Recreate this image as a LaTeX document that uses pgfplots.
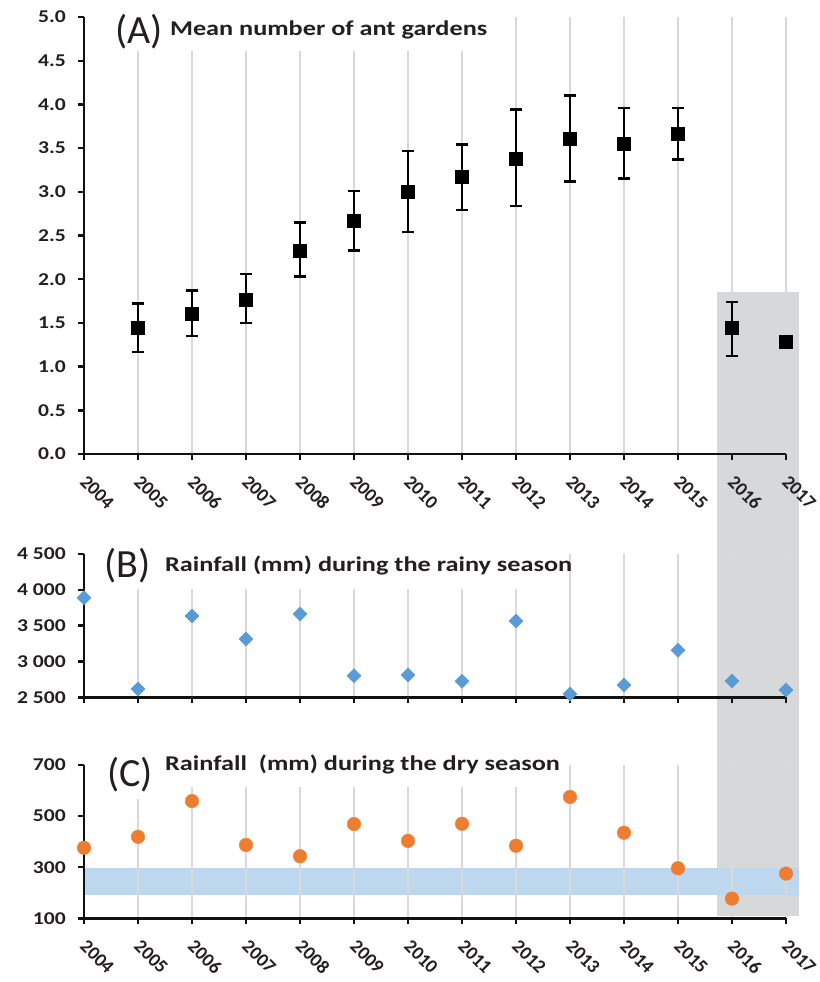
\documentclass[border=0pt]{standalone}
\usepackage{fontspec}
\setmainfont{Carlito}
\usepackage{graphicx}
\usepackage{pgfplots}
\usepackage{pgfplotstable}
\pgfplotsset{compat=1.18}
\definecolor{txt}{HTML}{231F20}
\definecolor{axk}{HTML}{111111}
\definecolor{gridc}{HTML}{D9D9D9}
\definecolor{boxg}{HTML}{D7D8DA}
\definecolor{bandc}{HTML}{BDD7EE}
\definecolor{dblue}{HTML}{5B9BD5}
\definecolor{dorange}{HTML}{ED7D31}
\newcommand\sx[1]{\scalebox{1.2}[1]{#1}}
\newcommand\tx[1]{\scalebox{1.25}[1]{#1}}

\pgfplotstableread{
x y ep em
1 1.44 0.28 0.27
2 1.61 0.26 0.26
3 1.77 0.29 0.27
4 2.33 0.32 0.30
5 2.67 0.34 0.34
6 3.00 0.47 0.46
7 3.17 0.37 0.38
8 3.38 0.56 0.54
9 3.61 0.49 0.49
10 3.55 0.41 0.40
11 3.67 0.29 0.30
12 1.44 0.30 0.32
}\tA
\pgfplotstableread{
x y
13 1.28
}\tAb
\pgfplotstableread{
x y
0 3890
1 2615
2 3635
3 3315
4 3663
5 2802
6 2811
7 2723
8 3566
9 2546
10 2672
11 3156
12 2728
13 2602
}\tB
\pgfplotstableread{
x y
0 376
1 419
2 559
3 387
4 343
5 469
6 403
7 470
8 384
9 575
10 435
11 296
12 177
13 275
}\tC

\pgfplotsset{
  base/.style={
    set layers,
    scale only axis, width=702pt, xmin=0, xmax=13, xtick={0,1,2,3,4,5,6,7,8,9,10,11,12,13},
    axis lines*=left, axis line style={line width=2.6pt, color=axk},
    tick align=outside, major tick length=6pt,
    tick style={line width=2.4pt, color=axk},
    xmajorgrids, major grid style={line width=1.5pt, color=gridc},
    clip=false, anchor=south west,
    every tick label/.append style={font=\bfseries\fontsize{18}{18}\selectfont, text=txt},
    yticklabel style={inner sep=0pt, xshift=-12pt},
    xticklabel style={xshift=4pt, yshift=-14pt, rotate=-45, anchor=north west, inner sep=0pt,
      font=\bfseries\fontsize{19}{19}\selectfont},
  },
}
\tikzset{
  lettr/.style={anchor=base west, inner sep=0pt, text=txt, font=\fontsize{40}{40}\selectfont},
  ttl/.style={anchor=base west, inner sep=0pt, text=txt, font=\bfseries\fontsize{21}{21}\selectfont},
}

\begin{document}
\begin{tikzpicture}
\path (0pt,0pt) rectangle (819pt,-982pt);

% Panel A
\begin{axis}[base, at={(84pt,-454pt)}, height=437pt,
  ymin=0, ymax=5, ytick={0,0.5,1,1.5,2,2.5,3,3.5,4,4.5,5},
  yticklabels={\sx{0.0},\sx{0.5},\sx{1.0},\sx{1.5},\sx{2.0},\sx{2.5},\sx{3.0},\sx{3.5},\sx{4.0},\sx{4.5},\sx{5.0}},
  xticklabels={2004,2005,2006,2007,2008,2009,2010,2011,2012,2013,2014,2015,2016,2017}]
\begin{pgfonlayer}{axis background}
\fill[boxg] (axis cs:11.72,1.853) rectangle (axis cs:13.24,-5.286);
\end{pgfonlayer}
\fill[white] (axis cs:0.4,4.61) rectangle (axis cs:7.6,5.1);
\node[lettr] at (axis cs:0.573,4.699) {(A)};
\node[ttl] at (axis cs:1.59,4.794) {\tx{Mean number of ant gardens}};
\addplot[only marks, mark=square*, mark size=6.5pt, color=black, line width=2.8pt,
  mark options={line width=0.4pt},
  error bars/.cd, y dir=both, y explicit,
  error bar style={line width=2.8pt, black},
  error mark options={rotate=90, line width=2.4pt, mark size=6pt, black}]
  table[x=x, y=y, y error plus=ep, y error minus=em] {\tA};
\addplot[only marks, mark=square*, mark size=6.5pt, color=black] table[x=x, y=y] {\tAb};
\end{axis}

% Panel B
\begin{axis}[base, at={(84pt,-697.3pt)}, height=143.3pt,
  ymin=2500, ymax=4500, ytick={2500,3000,3500,4000,4500},
  yticklabels={\sx{2 500},\sx{3 000},\sx{3 500},\sx{4 000},\sx{4 500}},
  xticklabels={}]
\fill[white] (axis cs:0.4,4012) rectangle (axis cs:8.6,4650);
\node[lettr] at (axis cs:0.37,4166) {(B)};
\node[ttl] at (axis cs:1.50,4250) {\tx{Rainfall (mm) during the rainy season}};
\addplot[only marks, mark=square*, mark size=5pt, mark options={rotate=45}, color=dblue] table[x=x, y=y] {\tB};
\end{axis}

% Panel C
\begin{axis}[base, at={(84pt,-918.3pt)}, height=153.3pt,
  ymin=100, ymax=700, ytick={100,300,500,700},
  yticklabels={\sx{100},\sx{300},\sx{500},\sx{700}},
  xticklabels={2004,2005,2006,2007,2008,2009,2010,2011,2012,2013,2014,2015,2016,2017}]
\begin{pgfonlayer}{axis background}
\fill[bandc] (axis cs:0,190) rectangle (axis cs:13.24,297);
\end{pgfonlayer}
\fill[white] (axis cs:0.4,567) rectangle (axis cs:1.45,760);
\fill[white] (axis cs:1.45,615) rectangle (axis cs:8.6,760);
\node[lettr] at (axis cs:0.425,615) {(C)};
\node[ttl] at (axis cs:1.50,680) {\tx{Rainfall\ \ (mm) during the dry season}};
\addplot[only marks, mark=*, mark size=6.8pt, color=dorange] table[x=x, y=y] {\tC};
\end{axis}
\end{tikzpicture}
\end{document}
